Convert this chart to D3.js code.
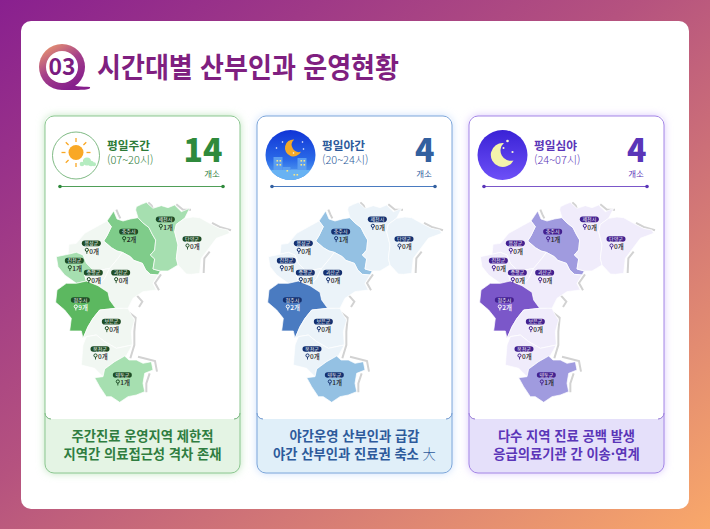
<!DOCTYPE html>
<html lang="ko">
<head>
<meta charset="utf-8">
<script src="https://cdn.jsdelivr.net/npm/d3@7"></script>
<style>
html, body { margin: 0; padding: 0; background: #fff; }
svg { display: block; }
text { font-family: "Noto Sans CJK KR", "Noto Sans", sans-serif; }
</style>
</head>
<body>
<svg id="chart" width="710" height="529"></svg>
<script>
var width = 710;
var height = 529;

var regionNames = ["충주시", "제천시", "단양군", "음성군", "진천군", "증평군", "괴산군", "청주시", "보은군", "옥천군", "영동군"];
var dayCounts = [2, 1, 0, 0, 1, 0, 0, 9, 0, 0, 1];
var eveningCounts = [1, 0, 0, 0, 0, 0, 0, 2, 0, 0, 1];
var nightCounts = [1, 0, 0, 0, 0, 0, 0, 2, 0, 0, 1];

var panelTitles = ["평일주간", "평일야간", "평일심야"];
var panelHours = ["(07~20시)", "(20~24시)", "(24~07시)"];
var panelTotals = [14, 4, 4];
var panelNotes = [
    ["주간진료 운영지역 제한적", "지역간 의료접근성 격차 존재"],
    ["야간운영 산부인과 급감", "야간 산부인과 진료권 축소 "],
    ["다수 지역 진료 공백 발생", "응급의료기관 간 이송·연계"]
];

// map outlines of the eleven counties, in map units (0-630)
var regionOutlines = [
    [[212,48],[222,72],[240,78],[262,72],[285,68],[298,82],[318,98],[328,118],[338,135],[335,165],[322,180],[335,192],[330,222],[352,228],[345,240],[322,238],[308,225],[298,205],[272,196],[262,185],[238,172],[222,168],[205,158],[182,138],[192,122],[205,95],[192,78]],
    [[280,35],[295,28],[310,22],[330,40],[355,32],[375,38],[395,30],[415,50],[440,40],[425,70],[400,88],[395,110],[405,150],[400,190],[405,210],[375,228],[352,228],[330,222],[335,192],[322,180],[335,165],[338,135],[328,118],[318,98],[298,82],[285,68],[278,45]],
    [[425,70],[450,66],[470,68],[500,85],[530,100],[555,105],[560,115],[520,130],[505,150],[490,170],[475,190],[470,235],[445,238],[430,237],[405,210],[400,190],[405,150],[395,110],[400,88]],
    [[75,178],[78,148],[100,145],[125,115],[170,90],[192,78],[205,95],[192,122],[182,138],[205,158],[222,168],[238,172],[225,190],[200,220],[175,225],[150,225],[130,205],[120,180],[100,172]],
    [[40,185],[75,178],[100,172],[120,180],[130,205],[150,225],[125,240],[130,258],[100,265],[65,240],[45,215]],
    [[150,225],[175,225],[200,220],[185,250],[165,272],[130,258],[125,240]],
    [[238,172],[262,185],[272,196],[298,205],[308,225],[322,238],[345,240],[330,265],[340,285],[300,290],[270,310],[255,340],[218,340],[200,315],[195,292],[165,272],[185,250],[200,220],[225,190]],
    [[100,265],[130,258],[165,272],[195,292],[200,315],[218,340],[170,345],[150,370],[135,395],[120,430],[115,408],[80,408],[85,370],[65,345],[38,322],[42,285],[70,265]],
    [[150,370],[170,345],[218,340],[255,340],[265,360],[275,375],[265,410],[268,450],[220,460],[185,440],[160,420],[130,425],[120,430],[135,395]],
    [[130,425],[160,420],[185,440],[220,460],[268,450],[250,482],[215,500],[185,522],[180,545],[155,520],[115,510],[120,450]],
    [[155,548],[180,545],[185,522],[215,500],[245,483],[258,495],[280,495],[300,505],[325,500],[330,525],[305,535],[300,565],[305,590],[280,600],[255,605],[230,622],[205,605],[190,605],[170,575]]
];
var labelPoints = [[257,110],[367,73],[447,132],[145,145],[94,197],[151,233],[233,233],[112,315],[205,380],[171,462],[238,540]];
var shadowEdges = [
    [[220,44],[226,58],[232,70]],
    [[316,22],[326,32],[332,48]],
    [[400,28],[420,44],[444,44]],
    [[507,84],[530,96],[564,106]],
    [[500,170],[484,190],[482,234]],
    [[354,238],[336,264],[348,286]],
    [[282,302],[298,320],[288,336]],
    [[240,338],[278,368],[274,410],[274,450],[262,490]],
    [[285,485],[336,498],[342,530]],
    [[320,535],[310,565],[310,592]]
];

var themes = [
    {main: "#2f8a3c", head: "#2c7a37", text: "#2f7d40", line: "#4f9e58", border: "#8cc791", pill: "#1e4d26", foot: "#e4f4e4", glow: "#b9e2b9",
     fill: d3.scaleThreshold().domain([1, 2, 3]).range(["#f1f7f2", "#a6dfb0", "#7fcc8a", "#5cb860"])},
    {main: "#33609f", head: "#2d5a9b", text: "#2d5a9b", line: "#4a7bc0", border: "#7da6da", pill: "#14306f", foot: "#e0eff9", glow: "#c5dcfb",
     fill: d3.scaleThreshold().domain([1, 2]).range(["#ebf3f9", "#94c1e3", "#4a7bc1"])},
    {main: "#5a35b8", head: "#5a35b8", text: "#5a35b8", line: "#7b57c9", border: "#a486e6", pill: "#43208f", foot: "#e5e0fa", glow: "#d6c2fb",
     fill: d3.scaleThreshold().domain([1, 2]).range(["#f0ecfb", "#a09bdf", "#7b57c9"])}
];

var panelX = d3.scaleOrdinal().domain([0, 1, 2]).range([45, 257, 469]);
var panelWidth = 195;
var mapY = d3.scaleLinear().domain([0, 630]).range([195, 405]);

var svg = d3.select("#chart");
var defs = svg.append("defs");

function addGradient(id, x1, y1, x2, y2, stops) {
    var g = defs.append("linearGradient").attr("id", id)
        .attr("x1", x1).attr("y1", y1).attr("x2", x2).attr("y2", y2);
    stops.forEach(function(s) {
        g.append("stop").attr("offset", s[0]).attr("stop-color", s[1]);
    });
}

addGradient("page", 0, 0, 1, 1, [[0, "#89208f"], [0.45, "#b5527f"], [1, "#f9a86a"]]);
addGradient("ring", 0, 0, 0.6, 1, [[0, "#f6a66a"], [0.55, "#a5408a"], [1, "#861f8c"]]);
addGradient("evening", 0, 0, 0, 1, [[0, "#1034d6"], [0.6, "#2a6ae8"], [1, "#62b0f2"]]);
addGradient("night", 0, 0, 0, 1, [[0, "#3a22d6"], [1, "#6d50f7"]]);
defs.append("filter").attr("id", "glow")
    .attr("x", "-10%").attr("y", "-10%").attr("width", "120%").attr("height", "120%")
    .append("feGaussianBlur").attr("stdDeviation", 4);

function crescentPath(cx, cy, r) {
    return "M" + (cx + r * 0.2) + "," + (cy - r) +
        "A" + r + "," + r + " 0 1 0 " + (cx + r) + "," + (cy + r * 0.45) +
        "A" + (r * 0.85) + "," + (r * 0.85) + " 0 0 1 " + (cx + r * 0.2) + "," + (cy - r) + "Z";
}

function drawBackground() {
    svg.append("rect").attr("width", width).attr("height", height).attr("fill", "url(#page)");
    svg.append("rect").attr("x", 21).attr("y", 21).attr("width", 668).attr("height", 488)
        .attr("rx", 10).attr("fill", "#fff");
}

function drawTitle() {
    var g = svg.append("g");
    g.append("path")
        .attr("d", "M70,84 C78,88 84,86 90,87 C91,90 84,90 62,90 Z")
        .attr("fill", "#861f8c");
    g.append("circle").attr("cx", 62).attr("cy", 67).attr("r", 23).attr("fill", "url(#ring)");
    g.append("circle").attr("cx", 62).attr("cy", 67).attr("r", 16).attr("fill", "#fff");
    g.append("text").text("03")
        .attr("x", 62).attr("y", 75)
        .attr("text-anchor", "middle")
        .attr("font-size", 23).attr("font-weight", 700)
        .attr("textLength", 27).attr("lengthAdjust", "spacingAndGlyphs")
        .attr("fill", "#7a1c80");
    g.append("text").text("시간대별 산부인과 운영현황")
        .attr("x", 97).attr("y", 78)
        .attr("font-size", 28).attr("font-weight", 700)
        .attr("textLength", 302).attr("lengthAdjust", "spacingAndGlyphs")
        .attr("fill", "#7f1f80");
}

function drawDayIcon(g, cx, cy) {
    g.append("circle").attr("cx", cx).attr("cy", cy).attr("r", 23.5)
        .attr("fill", "#fff").attr("stroke", "#5fa866").attr("stroke-width", 0.8);
    d3.range(8).forEach(function(i) {
        var a = i * Math.PI / 4;
        g.append("line")
            .attr("x1", cx + 10.5 * Math.cos(a)).attr("y1", cy - 3 + 10.5 * Math.sin(a))
            .attr("x2", cx + 14.5 * Math.cos(a)).attr("y2", cy - 3 + 14.5 * Math.sin(a))
            .attr("stroke", "#f9a825").attr("stroke-width", 1.3);
    });
    g.append("circle").attr("cx", cx).attr("cy", cy - 3).attr("r", 7.5).attr("fill", "#f9a825");
    [[6, 8.5, 2.3], [11, 6, 4], [15, 8, 2.8], [18, 8.8, 2]].forEach(function(c) {
        g.append("circle").attr("cx", cx + c[0]).attr("cy", cy + c[1]).attr("r", c[2]).attr("fill", "#b5ecc0");
    });
}

function drawEveningIcon(g, cx, cy) {
    var clipId = "eveningClip";
    defs.append("clipPath").attr("id", clipId)
        .append("circle").attr("cx", cx).attr("cy", cy).attr("r", 25);
    g.append("circle").attr("cx", cx).attr("cy", cy).attr("r", 25).attr("fill", "url(#evening)");
    var b = g.append("g").attr("clip-path", "url(#" + clipId + ")");
    [[-17, 2, 9, 24], [-8, 12, 8, 14], [0, 14, 8, 12], [7, 3, 9, 24], [-24, 15, 50, 12]].forEach(function(r, i) {
        b.append("rect").attr("x", cx + r[0]).attr("y", cy + r[1]).attr("width", r[2]).attr("height", r[3])
            .attr("fill", i == 4 ? "#68b2f3" : "#5b9ef0");
    });
    [[-14, 5], [-11, 5], [-14, 9], [-11, 9], [10, 5], [13, 5], [10, 9], [13, 9], [-4, 15], [3, 19], [6, 19]].forEach(function(w) {
        b.append("rect").attr("x", cx + w[0]).attr("y", cy + w[1]).attr("width", 1.6).attr("height", 1.6).attr("fill", "#f6e58a");
    });
    g.append("path").attr("d", crescentPath(cx + 2, cy - 7, 8.5)).attr("fill", "#f5a928");
    [[-8, -13], [12, -13], [13, -6], [-14, -7], [3, -2]].forEach(function(s) {
        g.append("circle").attr("cx", cx + s[0]).attr("cy", cy + s[1]).attr("r", 0.8).attr("fill", "#fff");
    });
}

function drawNightIcon(g, cx, cy) {
    g.append("circle").attr("cx", cx).attr("cy", cy).attr("r", 25).attr("fill", "url(#night)");
    g.append("path").attr("d", crescentPath(cx - 1, cy, 12)).attr("fill", "#f4f3ac");
    [[5, -14, 1.3], [1, -7, 1], [10, -3, 1.1]].forEach(function(s) {
        g.append("circle").attr("cx", cx + s[0]).attr("cy", cy + s[1]).attr("r", s[2]).attr("fill", "#f7f7d8");
    });
}

function drawPanel(counts, i) {
    var theme = themes[i];
    var x0 = panelX(i);
    var x1 = x0 + panelWidth;
    var top = 116, cardBottom = 419, bottom = 473;
    var g = svg.append("g").attr("class", "panel");

    g.append("rect").attr("x", x0).attr("y", top).attr("width", panelWidth).attr("height", bottom - top)
        .attr("rx", 9).attr("fill", theme.glow).attr("filter", "url(#glow)");
    g.append("rect").attr("x", x0).attr("y", top + 40).attr("width", panelWidth).attr("height", bottom - top - 40)
        .attr("rx", 9).attr("fill", theme.foot);
    g.append("rect").attr("x", x0).attr("y", top).attr("width", panelWidth).attr("height", cardBottom - top)
        .attr("rx", 6).attr("fill", "#fff");
    g.append("path")
        .attr("d", "M" + x0 + "," + (cardBottom - 6) + "A6,6 0 0 0 " + (x0 + 6) + "," + cardBottom +
            "M" + (x1 - 6) + "," + cardBottom + "A6,6 0 0 0 " + x1 + "," + (cardBottom - 6))
        .attr("fill", "none").attr("stroke", theme.line).attr("stroke-width", 0.8);
    g.append("rect").attr("x", x0).attr("y", top).attr("width", panelWidth).attr("height", bottom - top)
        .attr("rx", 9).attr("fill", "none").attr("stroke", theme.border).attr("stroke-width", 1);

    var iconX = x0 + (i == 0 ? 31 : 33.5);
    if (i == 0) drawDayIcon(g, iconX, 155.5);
    if (i == 1) drawEveningIcon(g, iconX, 155);
    if (i == 2) drawNightIcon(g, iconX, 155);

    var headX = x0 + 62 + (i == 0 ? 0 : 3);
    g.append("text").text(panelTitles[i])
        .attr("x", headX).attr("y", 149.5)
        .attr("font-size", 11.7).attr("font-weight", 700).attr("fill", theme.head);
    g.append("text").text(panelHours[i])
        .attr("x", headX).attr("y", 164)
        .attr("font-size", 11).attr("font-weight", 300).attr("fill", theme.head);
    g.append("text").text(panelTotals[i])
        .attr("x", x1 - 17.5).attr("y", 161.5)
        .attr("text-anchor", "end")
        .attr("font-family", "Roboto")
        .attr("font-size", 32).attr("font-weight", 900).attr("fill", theme.main);
    g.append("text").text("개소")
        .attr("x", x1 - 28).attr("y", 176.5)
        .attr("text-anchor", "middle")
        .attr("font-size", 8.5).attr("fill", theme.head);

    g.append("line").attr("x1", x0 + 15).attr("x2", x1 - 17).attr("y1", 186.5).attr("y2", 186.5)
        .attr("stroke", theme.line).attr("stroke-width", 1.2);
    g.selectAll("circle.end").data([x0 + 15, x1 - 17]).enter().append("circle")
        .attr("class", "end")
        .attr("cx", function(d) {return d}).attr("cy", 186.5).attr("r", 1.8)
        .attr("fill", theme.main);

    drawMap(g, counts, i);

    var noteY = d3.scalePoint().domain([0, 1]).range([441, 459]);
    panelNotes[i].forEach(function(line, k) {
        var t = g.append("text")
            .attr("x", (x0 + x1) / 2).attr("y", noteY(k))
            .attr("text-anchor", "middle")
            .attr("font-size", 13.3).attr("font-weight", 700)
            .attr("fill", theme.text)
            .text(line);
        if (i == 1 && k == 1) {
            t.append("tspan").text("大")
                .attr("font-weight", 300);
        }
    });
}

function drawMap(g, counts, i) {
    var theme = themes[i];
    var mapX = d3.scaleLinear().domain([0, 630]).range([panelX(i) - 2, panelX(i) + 208]);
    var line = d3.line().x(function(d) {return mapX(d[0])}).y(function(d) {return mapY(d[1])});
    var area = d3.line().x(function(d) {return mapX(d[0])}).y(function(d) {return mapY(d[1])})
        .curve(d3.curveLinearClosed);

    g.selectAll("path.shadow").data(shadowEdges).enter().append("path")
        .attr("class", "shadow")
        .attr("d", line)
        .attr("fill", "none")
        .attr("stroke", "#d2d2d2")
        .attr("stroke-width", 2);

    g.selectAll("path.region").data(regionOutlines).enter().append("path")
        .attr("class", "region")
        .attr("d", area)
        .attr("fill", function(d, k) {return theme.fill(counts[k])})
        .attr("stroke", "#fff")
        .attr("stroke-width", 0.7);

    var labels = g.selectAll("g.label").data(regionNames).enter().append("g")
        .attr("class", "label")
        .attr("transform", function(d, k) {
            return "translate(" + mapX(labelPoints[k][0]) + "," + mapY(labelPoints[k][1]) + ")";
        });
    labels.append("rect")
        .attr("x", -9.5).attr("y", -2.8).attr("width", 19).attr("height", 5.6)
        .attr("rx", 2.8).attr("fill", theme.pill);
    labels.append("text").text(function(d) {return d})
        .attr("y", 1.8).attr("text-anchor", "middle")
        .attr("font-size", 5).attr("fill", "#fff");

    var ink = function(k) {return regionNames[k] == "청주시" ? "#fff" : "#222"};
    labels.append("circle")
        .attr("cx", -4.5).attr("cy", 6.5).attr("r", 1.6)
        .attr("fill", "none")
        .attr("stroke", function(d, k) {return regionNames[k] == "청주시" ? "#fff" : theme.pill})
        .attr("stroke-width", 1);
    labels.append("line")
        .attr("x1", -4.5).attr("x2", -4.5).attr("y1", 8).attr("y2", 10.5)
        .attr("stroke", function(d, k) {return regionNames[k] == "청주시" ? "#fff" : theme.pill})
        .attr("stroke-width", 0.9);
    labels.append("text").text(function(d, k) {return counts[k] + "개"})
        .attr("x", -2).attr("y", 10.2)
        .attr("font-size", 6.5).attr("font-weight", 500)
        .attr("fill", function(d, k) {return ink(k)});
}

drawBackground();
drawTitle();
[dayCounts, eveningCounts, nightCounts].forEach(drawPanel);
</script>
</body>
</html>
